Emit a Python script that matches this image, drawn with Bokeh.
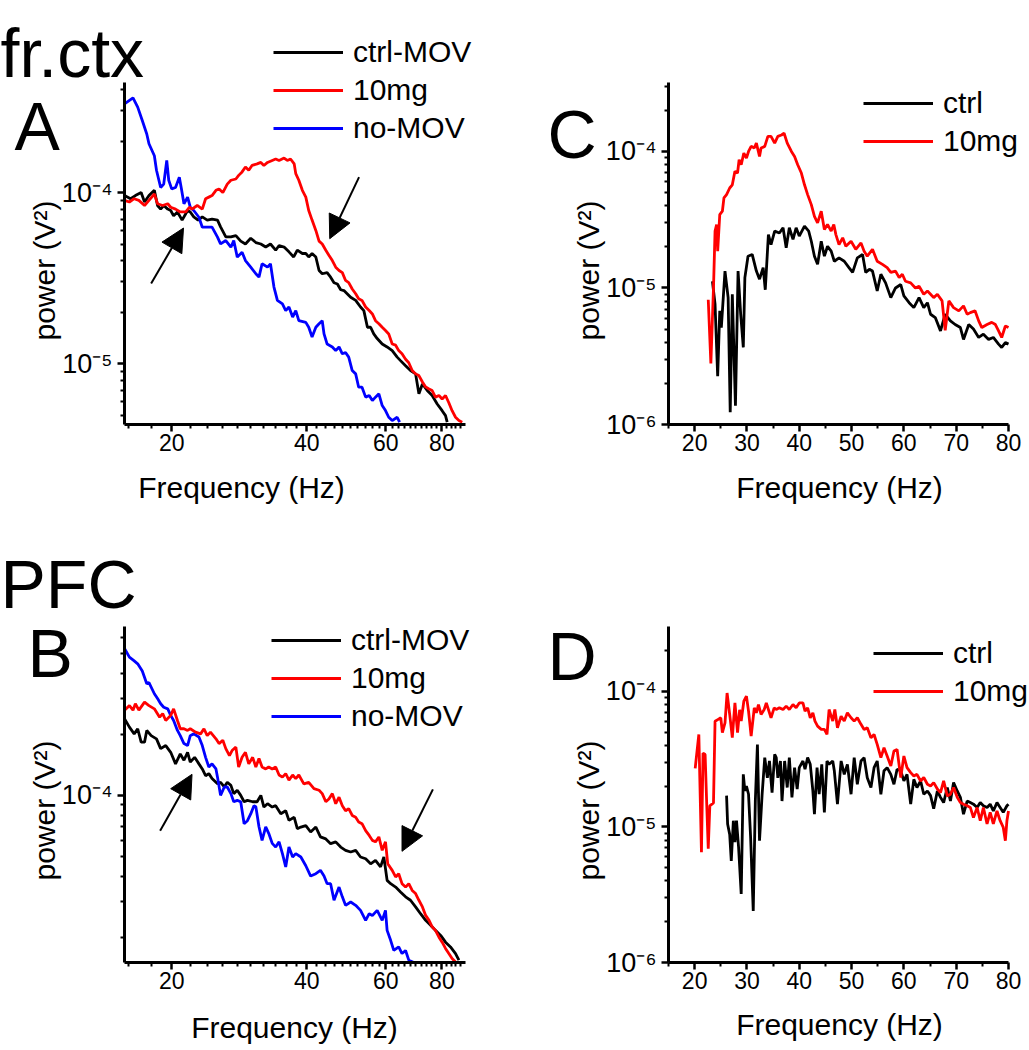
import math
from bokeh.plotting import figure
from bokeh.models import (FixedTicker, Label, Legend, LegendItem, Arrow, NormalHead,
                          Range1d, BasicTickFormatter, CustomJSTickFormatter)
from bokeh.layouts import column, row
from bokeh.embed import file_html
from bokeh.resources import INLINE

FONT = "Liberation Sans"

# ---------------- Panel A (fr.ctx, log-log) ----------------
A_f_ctrl = [15.7, 16.2, 16.6, 17.1, 17.4, 17.8, 18.3, 18.6, 18.9, 19.2,
            19.6, 19.9, 20.2, 20.6, 21.1, 21.7, 22.0, 22.4, 22.9, 23.4,
            24.0, 24.6, 25.3, 25.7, 26.4, 27.1, 27.8, 28.5, 29.2, 30.0,
            30.8, 31.6, 32.4, 33.2, 34.1, 34.7, 35.6, 36.5, 37.4, 38.1,
            39.1, 39.8, 40.4, 41.1, 41.9, 42.6, 43.3, 44.4, 45.2, 46.0,
            46.8, 47.6, 48.4, 49.2, 50.1, 51.4, 52.7, 53.6, 54.6, 55.5,
            56.4, 57.4, 58.9, 60.4, 62.0, 63.6, 64.7, 66.4, 68.1, 69.9,
            71.1, 72.4, 74.2, 76.1, 78.1, 80.1, 81.5, 82.2]
A_p_ctrl = [9.6e-5, 9.2e-5, 9.6e-5, 1.0e-4, 8.8e-5, 9.6e-5, 1.03e-4, 8.4e-5, 8.0e-5, 8.4e-5,
            8.0e-5, 7.85e-5, 7.3e-5, 7.7e-5, 6.9e-5, 7.85e-5, 7.7e-5, 7.2e-5, 6.9e-5, 7.2e-5,
            6.9e-5, 7.0e-5, 6.9e-5, 6.3e-5, 5.5e-5, 5.5e-5, 5.6e-5, 5.2e-5, 5.0e-5, 5.4e-5,
            5.1e-5, 5.0e-5, 4.8e-5, 5.0e-5, 4.6e-5, 4.9e-5, 4.8e-5, 4.5e-5, 4.2e-5, 4.6e-5,
            4.4e-5, 4.4e-5, 4.2e-5, 4.4e-5, 4.2e-5, 3.5e-5, 3.35e-5, 3.4e-5, 3.2e-5, 2.97e-5,
            2.92e-5, 2.7e-5, 2.67e-5, 2.56e-5, 2.44e-5, 2.34e-5, 2.14e-5, 2.04e-5, 1.63e-5, 1.63e-5,
            1.49e-5, 1.40e-5, 1.30e-5, 1.25e-5, 1.19e-5, 1.09e-5, 1.04e-5, 9.7e-6, 9.1e-6, 8.7e-6,
            6.65e-6, 7.6e-6, 6.95e-6, 6.5e-6, 5.8e-6, 5.3e-6, 4.96e-6, 4.54e-6]

A_f_10mg = [15.7, 16.1, 16.5, 16.9, 17.4, 17.8, 18.3, 18.6, 19.1, 19.6,
            19.9, 20.4, 20.9, 21.5, 21.9, 22.2, 22.8, 23.4, 23.8, 24.2,
            24.6, 25.1, 25.5, 26.0, 26.6, 27.1, 27.8, 28.2, 28.7, 29.2,
            29.7, 30.2, 31.0, 31.6, 32.1, 32.7, 33.5, 34.1, 34.7, 35.6,
            36.2, 36.8, 37.5, 37.8, 38.4, 39.1, 39.8, 40.4, 41.1, 41.9,
            42.6, 43.3, 44.1, 44.8, 45.6, 46.4, 47.2, 48.0, 48.8, 49.6,
            50.5, 51.4, 52.2, 53.1, 54.1, 55.1, 56.0, 56.9, 57.9, 58.9,
            59.9, 60.9, 62.0, 63.1, 64.1, 65.2, 66.4, 67.5, 68.7, 69.9,
            71.1, 72.4, 73.6, 74.9, 76.1, 77.4, 78.8, 80.1, 81.5, 82.9,
            84.3, 85.8, 87.3, 88.8]
A_p_10mg = [9.0e-5, 8.8e-5, 9.2e-5, 9.0e-5, 8.4e-5, 9.0e-5, 9.8e-5, 8.6e-5, 8.4e-5, 8.6e-5,
            8.2e-5, 8.0e-5, 7.7e-5, 7.7e-5, 8.2e-5, 8.0e-5, 8.4e-5, 8.0e-5, 9.2e-5, 9.4e-5,
            9.6e-5, 1.03e-4, 1.05e-4, 1.0e-4, 1.12e-4, 1.18e-4, 1.20e-4, 1.26e-4, 1.32e-4, 1.41e-4,
            1.35e-4, 1.44e-4, 1.47e-4, 1.50e-4, 1.44e-4, 1.50e-4, 1.54e-4, 1.57e-4, 1.54e-4, 1.59e-4,
            1.54e-4, 1.57e-4, 1.47e-4, 1.29e-4, 1.18e-4, 1.03e-4, 9.4e-5, 7.85e-5, 6.9e-5, 6.0e-5,
            5.2e-5, 5.0e-5, 4.6e-5, 4.3e-5, 4.0e-5, 3.66e-5, 3.5e-5, 3.4e-5, 3.06e-5, 2.97e-5,
            2.73e-5, 2.56e-5, 2.39e-5, 2.34e-5, 2.14e-5, 2.04e-5, 1.95e-5, 1.78e-5, 1.71e-5, 1.63e-5,
            1.56e-5, 1.49e-5, 1.30e-5, 1.28e-5, 1.19e-5, 1.14e-5, 1.06e-5, 1.01e-5, 9.1e-6, 8.7e-6,
            8.5e-6, 7.8e-6, 7.3e-6, 7.1e-6, 6.95e-6, 6.36e-6, 6.5e-6, 6.2e-6, 6.5e-6, 5.9e-6,
            5.3e-6, 4.85e-6, 4.64e-6, 4.54e-6]

A_f_nomov = [15.7, 16.4, 16.8, 17.2, 17.6, 17.8, 18.3, 18.5, 18.9, 19.2,
             19.5, 19.7, 20.0, 20.4, 20.8, 21.0, 21.3, 21.7, 22.0, 22.4,
             23.0, 23.4, 24.0, 24.6, 25.3, 25.7, 26.4, 27.1, 27.5, 28.0,
             28.7, 29.2, 30.0, 30.8, 31.3, 31.8, 32.7, 33.2, 33.8, 34.4,
             35.3, 35.9, 36.5, 37.2, 37.8, 38.4, 39.8, 40.4, 41.1, 41.9,
             42.6, 43.3, 43.7, 44.4, 45.6, 46.4, 47.2, 48.0, 48.8, 49.6,
             50.5, 51.4, 52.2, 53.1, 54.1, 55.1, 56.0, 56.9, 57.9, 58.9,
             59.9, 60.9, 62.0, 63.6, 64.4]
A_p_nomov = [3.30e-4, 3.58e-4, 3.16e-4, 2.64e-4, 2.20e-4, 1.93e-4, 1.64e-4, 1.35e-4, 1.07e-4, 1.12e-4,
             1.54e-4, 1.18e-4, 1.05e-4, 1.07e-4, 1.23e-4, 1.07e-4, 8.59e-5, 9.39e-5, 8.21e-5, 7.85e-5,
             7.17e-5, 6.27e-5, 6.27e-5, 6.27e-5, 5.48e-5, 5.01e-5, 5.24e-5, 4.79e-5, 5.24e-5, 4.19e-5,
             4.48e-5, 4.00e-5, 3.66e-5, 3.35e-5, 3.20e-5, 3.83e-5, 3.66e-5, 3.83e-5, 2.80e-5, 2.34e-5,
             2.23e-5, 2.04e-5, 2.14e-5, 1.87e-5, 2.04e-5, 1.78e-5, 1.74e-5, 1.63e-5, 1.43e-5, 1.63e-5,
             1.71e-5, 1.78e-5, 1.49e-5, 1.30e-5, 1.25e-5, 1.19e-5, 1.25e-5, 1.14e-5, 1.16e-5, 1.09e-5,
             9.10e-6, 8.70e-6, 7.27e-6, 7.27e-6, 6.36e-6, 6.50e-6, 6.07e-6, 6.36e-6, 6.65e-6, 5.68e-6,
             5.31e-6, 4.85e-6, 4.64e-6, 4.85e-6, 4.54e-6]

# ---------------- Panel B (PFC, log-log) ----------------
B_f_ctrl = [15.7, 16.1, 16.5, 16.8, 17.1, 17.4, 17.6, 18.0, 18.5, 18.9,
            19.4, 19.9, 20.4, 20.9, 21.3, 21.7, 22.0, 22.5, 23.0, 23.4,
            23.8, 24.2, 24.6, 25.3, 25.7, 26.2, 26.6, 27.1, 27.5, 28.0,
            28.5, 29.0, 29.5, 30.3, 31.0, 31.6, 32.1, 32.7, 33.5, 34.1,
            35.0, 35.9, 36.5, 37.5, 38.1, 38.8, 39.8, 40.8, 41.9, 42.9,
            44.1, 45.2, 46.4, 47.6, 48.8, 50.1, 51.4, 52.7, 54.1, 55.5,
            56.9, 58.4, 59.4, 60.4, 61.5, 63.1, 64.7, 66.4, 68.1, 69.9,
            71.7, 73.6, 75.5, 77.4, 79.5, 81.5, 83.6, 85.8, 87.3]
B_p_ctrl = [2.39e-4, 2.17e-4, 2.01e-4, 2.13e-4, 1.83e-4, 1.83e-4, 2.09e-4, 1.97e-4, 1.90e-4, 1.70e-4,
            1.76e-4, 1.63e-4, 1.43e-4, 1.60e-4, 1.49e-4, 1.63e-4, 1.46e-4, 1.54e-4, 1.43e-4, 1.35e-4,
            1.25e-4, 1.28e-4, 1.21e-4, 1.14e-4, 1.16e-4, 1.10e-4, 1.16e-4, 1.12e-4, 1.02e-4, 1.06e-4,
            1.0e-4, 9.3e-5, 9.45e-5, 9.3e-5, 9.3e-5, 1.0e-4, 8.76e-5, 9.1e-5, 8.76e-5, 8.9e-5,
            8.12e-5, 8.4e-5, 7.53e-5, 7.8e-5, 6.85e-5, 6.98e-5, 7.1e-5, 6.6e-5, 6.98e-5, 6.24e-5,
            6.1e-5, 5.78e-5, 5.9e-5, 5.56e-5, 5.36e-5, 5.26e-5, 5.36e-5, 4.97e-5, 4.87e-5, 4.6e-5,
            4.78e-5, 4.44e-5, 4.97e-5, 3.81e-5, 3.67e-5, 3.53e-5, 3.34e-5, 3.16e-5, 3.04e-5, 2.82e-5,
            2.61e-5, 2.42e-5, 2.29e-5, 2.16e-5, 2.04e-5, 1.89e-5, 1.79e-5, 1.66e-5, 1.54e-5]

B_f_10mg = [15.7, 16.1, 16.4, 16.6, 16.9, 17.4, 17.8, 18.3, 18.8, 19.1,
            19.4, 19.9, 20.2, 20.6, 20.9, 21.3, 21.7, 22.0, 22.6, 23.2,
            23.6, 24.0, 24.4, 25.1, 25.5, 26.0, 26.4, 26.9, 27.3, 27.8,
            28.2, 28.7, 29.2, 29.7, 30.3, 30.8, 31.3, 31.8, 32.4, 32.9,
            33.5, 34.1, 34.7, 35.3, 35.9, 36.5, 37.2, 37.8, 38.4, 39.4,
            40.4, 41.5, 42.6, 43.3, 44.1, 44.8, 45.6, 46.4, 47.2, 48.0,
            48.8, 49.6, 50.5, 51.4, 52.2, 53.1, 54.1, 55.1, 56.0, 56.9,
            57.9, 58.9, 59.9, 60.6, 62.0, 63.1, 64.1, 65.2, 66.4, 67.5,
            68.7, 69.9, 71.1, 72.4, 73.6, 74.9, 76.1, 77.4, 78.8, 80.1,
            81.5, 82.9, 84.3, 85.8]
B_p_10mg = [2.63e-4, 2.77e-4, 2.63e-4, 2.83e-4, 2.63e-4, 2.88e-4, 2.77e-4, 2.67e-4, 2.43e-4, 2.53e-4,
            2.34e-4, 2.48e-4, 2.67e-4, 2.34e-4, 2.13e-4, 2.13e-4, 2.09e-4, 2.13e-4, 2.05e-4, 2.01e-4,
            2.13e-4, 1.97e-4, 2.05e-4, 1.90e-4, 1.80e-4, 1.87e-4, 1.70e-4, 1.57e-4, 1.67e-4, 1.73e-4,
            1.38e-4, 1.54e-4, 1.63e-4, 1.43e-4, 1.54e-4, 1.38e-4, 1.52e-4, 1.38e-4, 1.35e-4, 1.38e-4,
            1.35e-4, 1.38e-4, 1.26e-4, 1.23e-4, 1.28e-4, 1.19e-4, 1.26e-4, 1.21e-4, 1.26e-4, 1.14e-4,
            1.16e-4, 1.08e-4, 1.06e-4, 1.02e-4, 9.3e-5, 9.6e-5, 1.02e-4, 9.1e-5, 9.8e-5, 8.9e-5,
            8.4e-5, 8.6e-5, 7.96e-5, 7.8e-5, 7.4e-5, 7.25e-5, 6.7e-5, 6.35e-5, 6.0e-5, 5.9e-5,
            6.24e-5, 5.36e-5, 5.9e-5, 4.6e-5, 4.27e-5, 3.96e-5, 4.11e-5, 3.67e-5, 3.53e-5, 3.67e-5,
            3.4e-5, 3.28e-5, 3.04e-5, 2.82e-5, 2.56e-5, 2.42e-5, 2.25e-5, 2.16e-5, 2.0e-5, 1.89e-5,
            1.76e-5, 1.66e-5, 1.57e-5, 1.51e-5]

B_f_nomov = [15.7, 16.1, 16.5, 16.8, 17.2, 17.6, 17.8, 18.3, 18.6, 18.9,
             19.2, 19.6, 19.9, 20.2, 20.6, 20.9, 21.3, 21.7, 22.0, 22.4,
             23.0, 23.4, 23.8, 24.2, 24.6, 25.1, 25.3, 25.7, 26.2, 26.6,
             27.1, 27.5, 28.0, 28.5, 29.0, 29.5, 30.0, 30.5, 30.8, 31.3,
             31.8, 32.4, 32.9, 33.5, 34.1, 34.7, 35.3, 35.9, 36.5, 37.2,
             37.8, 38.8, 39.8, 40.8, 41.9, 42.9, 43.7, 44.4, 45.2, 46.0,
             47.2, 48.0, 48.8, 50.1, 51.4, 52.7, 54.1, 55.1, 56.0, 57.4,
             58.9, 59.9, 60.4, 61.5, 62.5, 64.1, 65.2, 66.4, 67.5, 69.3]
B_p_nomov = [5.3e-4, 4.8e-4, 4.6e-4, 4.45e-4, 4.1e-4, 3.55e-4, 3.6e-4, 3.17e-4, 3.0e-4, 2.83e-4,
             2.72e-4, 2.67e-4, 2.48e-4, 2.34e-4, 2.09e-4, 1.97e-4, 1.80e-4, 1.76e-4, 1.97e-4, 2.01e-4,
             1.94e-4, 1.76e-4, 1.54e-4, 1.38e-4, 1.43e-4, 1.35e-4, 1.23e-4, 1.0e-4, 1.10e-4, 1.10e-4,
             1.02e-4, 9.3e-5, 9.45e-5, 9.3e-5, 7.25e-5, 7.5e-5, 8.1e-5, 8.9e-5, 8.8e-5, 7.0e-5,
             6.0e-5, 7.0e-5, 6.5e-5, 5.8e-5, 5.56e-5, 5.9e-5, 5.16e-5, 4.44e-5, 5.56e-5, 4.97e-5,
             5.16e-5, 4.97e-5, 4.5e-5, 4.0e-5, 4.11e-5, 4.27e-5, 4.0e-5, 3.67e-5, 3.67e-5, 3.04e-5,
             3.53e-5, 3.16e-5, 2.87e-5, 2.98e-5, 2.87e-5, 2.71e-5, 2.42e-5, 2.61e-5, 2.56e-5, 2.71e-5,
             2.42e-5, 2.71e-5, 2.16e-5, 1.93e-5, 1.72e-5, 1.79e-5, 1.66e-5, 1.72e-5, 1.54e-5, 1.5e-5]

# ---------------- Panel C (fr.ctx, linear x) ----------------
C_f_ctrl = [23.4, 23.9, 24.4, 24.8, 25.1, 25.8, 26.4, 26.8, 27.2, 27.8,
            28.3, 28.8, 29.3, 29.6, 30.2, 31.0, 31.8, 32.4, 33.1, 33.5,
            34.1, 34.6, 35.3, 36.2, 36.9, 37.5, 38.1, 38.8, 39.4, 40.0,
            41.0, 41.8, 42.3, 42.9, 43.5, 44.2, 44.8, 45.4, 46.1, 46.7,
            47.6, 48.6, 49.5, 50.2, 51.1, 52.1, 52.7, 53.4, 54.0, 54.9,
            55.6, 56.5, 57.5, 58.4, 59.4, 60.0, 61.0, 61.9, 62.9, 63.8,
            64.5, 65.1, 66.0, 67.0, 67.9, 68.9, 69.8, 70.8, 71.4, 72.4,
            73.3, 74.3, 75.2, 76.2, 77.1, 78.1, 78.7, 79.4, 80.0]
C_p_ctrl = [1.12e-5, 7.6e-6, 2.26e-6, 6.8e-6, 5.13e-6, 1.33e-5, 8.5e-6, 1.23e-6, 9.0e-6, 1.37e-6,
            1.33e-5, 6.42e-6, 3.67e-6, 1.19e-5, 1.71e-5, 1.76e-5, 1.33e-5, 1.16e-5, 1.41e-5, 9.7e-6,
            2.46e-5, 2.08e-5, 2.61e-5, 2.53e-5, 2.76e-5, 1.97e-5, 2.76e-5, 2.27e-5, 2.76e-5, 2.40e-5,
            2.84e-5, 2.61e-5, 2.20e-5, 1.71e-5, 1.49e-5, 2.20e-5, 1.71e-5, 2.02e-5, 1.86e-5, 1.57e-5,
            1.66e-5, 1.57e-5, 1.41e-5, 1.30e-5, 1.66e-5, 1.76e-5, 1.30e-5, 1.37e-5, 1.33e-5, 9.5e-6,
            1.26e-5, 1.09e-5, 8.5e-6, 1.0e-5, 1.06e-5, 8.75e-6, 7.8e-6, 7.18e-6, 8.5e-6, 7.18e-6,
            7.8e-6, 6.42e-6, 6.07e-6, 4.85e-6, 6.42e-6, 5.74e-6, 5.4e-6, 5.13e-6, 4.2e-6, 5.4e-6,
            5.0e-6, 4.34e-6, 4.59e-6, 4.2e-6, 4.34e-6, 3.88e-6, 3.67e-6, 3.98e-6, 3.88e-6]

C_f_10mg = [22.6, 23.1, 23.6, 23.9, 24.2, 24.4, 24.8, 25.3, 25.6, 26.1,
            26.7, 27.2, 27.7, 28.2, 28.5, 28.9, 29.4, 29.9, 30.3, 30.8,
            31.4, 31.8, 32.4, 32.7, 33.4, 34.0, 34.6, 35.3, 35.9, 36.6,
            37.1, 37.7, 38.5, 39.1, 39.7, 40.4, 41.0, 41.6, 42.3, 42.9,
            43.5, 44.2, 44.8, 45.4, 46.1, 46.6, 47.0, 47.6, 48.3, 48.9,
            49.9, 50.8, 51.8, 52.4, 53.0, 54.0, 54.9, 55.9, 56.8, 57.5,
            58.4, 59.1, 59.7, 60.3, 61.3, 62.2, 62.9, 63.8, 64.5, 65.1,
            65.7, 66.4, 67.3, 67.9, 68.6, 69.5, 70.5, 71.4, 72.1, 72.7,
            73.6, 74.3, 74.9, 75.9, 76.8, 77.5, 78.1, 78.7, 79.4, 80.0]
C_p_10mg = [8.2e-6, 2.8e-6, 1.0e-5, 2.61e-5, 2.92e-5, 1.86e-5, 3.45e-5, 3.65e-5, 4.57e-5, 4.83e-5,
            5.40e-5, 5.7e-5, 7.15e-5, 6.95e-5, 8.7e-5, 7.99e-5, 9.73e-5, 8.94e-5, 1.0e-4, 1.09e-4,
            1.06e-4, 1.15e-4, 9.2e-5, 1.06e-4, 1.09e-4, 1.29e-4, 1.29e-4, 1.15e-4, 1.29e-4, 1.32e-4,
            1.36e-4, 1.15e-4, 1.0e-4, 9.2e-5, 7.99e-5, 6.95e-5, 5.7e-5, 4.83e-5, 4.08e-5, 3.35e-5,
            3.0e-5, 3.65e-5, 2.68e-5, 2.92e-5, 2.61e-5, 2.92e-5, 2.46e-5, 2.08e-5, 2.33e-5, 2.02e-5,
            2.20e-5, 1.92e-5, 2.14e-5, 1.86e-5, 1.71e-5, 1.92e-5, 1.57e-5, 1.49e-5, 1.41e-5, 1.30e-5,
            1.33e-5, 1.19e-5, 1.26e-5, 1.12e-5, 1.09e-5, 1.0e-5, 1.03e-5, 8.99e-6, 9.5e-6, 8.99e-6,
            8.5e-6, 8.99e-6, 8.04e-6, 4.9e-6, 8.04e-6, 7.18e-6, 6.8e-6, 7.4e-6, 6.42e-6, 6.6e-6,
            6.8e-6, 5.74e-6, 5.13e-6, 5.4e-6, 5.6e-6, 5.4e-6, 4.85e-6, 4.34e-6, 5.27e-6, 5.13e-6]

# ---------------- Panel D (PFC, linear x) ----------------
D_f_ctrl = [26.1, 26.3, 26.7, 27.0, 27.4, 27.7, 28.0, 28.4, 28.9, 29.3,
            29.6, 29.9, 30.3, 30.7, 31.2, 31.6, 32.0, 32.4, 32.9, 33.4,
            33.9, 34.3, 34.8, 35.3, 35.6, 35.9, 36.4, 36.7, 37.2, 37.7,
            38.1, 38.6, 39.1, 39.6, 40.0, 40.7, 41.1, 41.6, 42.1, 42.6,
            42.9, 43.4, 43.8, 44.3, 44.8, 45.3, 45.7, 46.4, 46.7, 47.3,
            48.0, 48.6, 49.2, 49.9, 50.5, 51.1, 51.8, 52.4, 53.0, 53.7,
            54.3, 54.9, 55.6, 56.2, 56.8, 57.5, 58.1, 58.7, 59.4, 60.0,
            60.6, 61.3, 61.9, 62.5, 63.2, 63.8, 64.5, 65.1, 65.7, 66.4,
            67.0, 67.6, 68.3, 68.9, 69.5, 70.2, 70.8, 71.4, 72.1, 72.7,
            73.3, 74.0, 74.6, 75.2, 75.9, 76.5, 77.1, 77.8, 78.4, 79.0,
            79.7, 80.0]
D_p_ctrl = [1.7e-5, 1.05e-5, 8.8e-6, 5.6e-6, 1.11e-5, 7.7e-6, 1.11e-5, 7.05e-6, 3.2e-6, 2.44e-5,
            1.84e-5, 2.0e-5, 1.74e-5, 8.35e-6, 2.4e-6, 1.55e-5, 4.05e-5, 7.9e-6, 1.74e-5, 3.24e-5,
            2.3e-5, 3.06e-5, 1.79e-5, 3.42e-5, 3.24e-5, 2.3e-5, 3.06e-5, 1.55e-5, 3.06e-5, 1.95e-5,
            3.24e-5, 1.65e-5, 2.73e-5, 1.9e-5, 2.73e-5, 3.06e-5, 2.66e-5, 3.24e-5, 2.89e-5, 1.84e-5,
            1.24e-5, 2.73e-5, 1.74e-5, 2.89e-5, 1.28e-5, 3.06e-5, 2.89e-5, 3.06e-5, 2.59e-5, 1.47e-5,
            3.06e-5, 2.44e-5, 2.89e-5, 1.74e-5, 3.24e-5, 2.06e-5, 3.06e-5, 3.24e-5, 2.3e-5, 1.95e-5,
            2.73e-5, 3.06e-5, 1.74e-5, 2.59e-5, 2.73e-5, 2.44e-5, 2.06e-5, 2.66e-5, 2.59e-5, 2.18e-5,
            2.44e-5, 1.47e-5, 2.24e-5, 1.95e-5, 2.18e-5, 1.74e-5, 1.84e-5, 1.7e-5, 1.36e-5, 1.84e-5,
            1.65e-5, 1.51e-5, 1.95e-5, 1.55e-5, 2.12e-5, 1.84e-5, 1.65e-5, 1.24e-5, 1.55e-5, 1.51e-5,
            1.47e-5, 1.39e-5, 1.51e-5, 1.43e-5, 1.39e-5, 1.47e-5, 1.31e-5, 1.51e-5, 1.39e-5, 1.28e-5,
            1.43e-5, 1.47e-5]

D_f_10mg = [20.1, 20.8, 21.3, 21.6, 22.0, 22.3, 22.6, 22.9, 23.6, 23.9,
            24.5, 25.0, 25.3, 25.8, 26.2, 26.7, 27.2, 27.7, 28.2, 28.6,
            28.9, 29.4, 29.9, 30.3, 30.8, 31.4, 31.8, 32.2, 32.7, 33.3,
            33.7, 34.1, 34.6, 35.2, 35.6, 36.2, 36.9, 37.5, 38.1, 38.8,
            39.4, 40.0, 40.7, 41.1, 41.6, 42.1, 42.6, 43.0, 43.5, 44.2,
            44.8, 45.3, 45.7, 46.4, 46.8, 47.3, 48.0, 48.6, 49.2, 49.9,
            50.5, 51.1, 51.8, 52.4, 53.0, 53.7, 54.3, 54.9, 55.6, 56.2,
            56.8, 57.5, 58.1, 58.7, 59.4, 60.0, 60.6, 61.3, 61.9, 62.5,
            63.2, 63.8, 64.5, 65.1, 65.7, 66.4, 67.0, 67.6, 68.3, 68.9,
            69.5, 70.2, 70.8, 71.4, 72.1, 72.7, 73.3, 74.0, 74.6, 75.2,
            75.9, 76.5, 77.1, 77.8, 78.4, 79.0, 79.4, 79.7, 80.0]
D_p_10mg = [2.7e-5, 4.8e-5, 6.5e-6, 3.5e-5, 3.42e-5, 1.5e-5, 6.9e-6, 1.43e-5, 1.5e-5, 6.0e-5,
            6.2e-5, 6.37e-5, 4.95e-5, 5.85e-5, 9.7e-5, 6.74e-5, 4.55e-5, 8.2e-5, 4.95e-5, 7.3e-5,
            6.02e-5, 8.44e-5, 9.2e-5, 7.13e-5, 4.67e-5, 7.54e-5, 6.93e-5, 7.98e-5, 6.74e-5, 7.33e-5,
            8.2e-5, 7.33e-5, 6.37e-5, 7.54e-5, 7.33e-5, 7.54e-5, 7.33e-5, 7.76e-5, 7.33e-5, 7.98e-5,
            7.54e-5, 8.2e-5, 8.2e-5, 7.13e-5, 7.54e-5, 6.37e-5, 6.93e-5, 6.02e-5, 5.53e-5, 5.23e-5,
            5.23e-5, 4.8e-5, 7.33e-5, 6.02e-5, 7.33e-5, 5.38e-5, 6.55e-5, 6.02e-5, 6.93e-5, 6.37e-5,
            6.02e-5, 6.37e-5, 5.7e-5, 5.23e-5, 5.38e-5, 4.54e-5, 4.8e-5, 4.06e-5, 3.24e-5, 3.83e-5,
            3.33e-5, 2.81e-5, 3.62e-5, 3.72e-5, 2.31e-5, 3.33e-5, 2.73e-5, 2.51e-5, 2.37e-5, 2.44e-5,
            2.18e-5, 2.31e-5, 2.06e-5, 2.0e-5, 2.12e-5, 1.9e-5, 1.79e-5, 2.18e-5, 1.69e-5, 1.74e-5,
            1.95e-5, 1.65e-5, 1.51e-5, 1.47e-5, 1.43e-5, 1.39e-5, 1.17e-5, 1.39e-5, 1.11e-5, 1.39e-5,
            1.05e-5, 1.28e-5, 1.05e-5, 1.31e-5, 1.11e-5, 9.9e-6, 7.9e-6, 1.11e-5, 1.31e-5]

# ---------------- ticks ----------------
LOGX_TICKS = [20, 40, 60, 80]
LOGX_MINOR = [16, 18, 22, 24, 26, 28, 30, 32, 34, 36, 38, 42, 44, 46, 48, 50, 52, 54, 56, 58,
              62, 64, 66, 68, 70, 72, 74, 76, 78, 82, 84, 86, 88]
LINX_TICKS = [20, 30, 40, 50, 60, 70, 80]
LINX_MINOR = [15, 25, 35, 45, 55, 65, 75]
Y_MINOR = [m * 10.0 ** e for e in (-6, -5, -4) for m in range(2, 10)]

BLACK, RED, BLUE = "#000000", "#ff0000", "#0000ff"

sup_fmt = CustomJSTickFormatter(code="""
const e = Math.round(Math.log10(tick));
const m = {'-':'\u207b','0':'\u2070','1':'\u00b9','2':'\u00b2','3':'\u00b3','4':'\u2074',
           '5':'\u2075','6':'\u2076','7':'\u2077','8':'\u2078','9':'\u2079'};
return '10' + String(e).split('').map(c => m[c]).join('');
""")


def full_range(v0, v1, p0, p1, length, log):
    """Range covering the whole canvas so that [v0, v1] maps onto pixels [p0, p1]."""
    a, b = (math.log10(v0), math.log10(v1)) if log else (v0, v1)
    k = (b - a) / (p1 - p0)
    r0, r1 = a - p0 * k, b + (length - p1) * k
    return (10 ** r0, 10 ** r1) if log else (r0, r1)


def make_fig(W, H, box, xvis, yvis, xlog, yticks, xticks, xminor):
    left, right, top, bottom = box
    xr = full_range(xvis[0], xvis[1], left, right, W, xlog)
    yr = full_range(yvis[0], yvis[1], H - bottom, H - top, H, True)
    p = figure(width=W, height=H, x_axis_type="log" if xlog else "linear", y_axis_type="log",
               x_range=Range1d(*xr), y_range=Range1d(*yr), title=None,
               output_backend="svg", toolbar_location=None, min_border=0)
    p.outline_line_color = None
    p.xgrid.visible = False
    p.ygrid.visible = False
    p.xaxis.fixed_location = yvis[0]
    p.yaxis.fixed_location = xvis[0]
    p.xaxis.bounds = xvis
    p.yaxis.bounds = yvis
    p.xaxis.ticker = FixedTicker(ticks=xticks, minor_ticks=xminor)
    p.yaxis.ticker = FixedTicker(ticks=yticks,
                                 minor_ticks=[v for v in Y_MINOR if yvis[0] <= v <= yvis[1]])
    p.xaxis.formatter = BasicTickFormatter()
    p.yaxis.formatter = sup_fmt
    for ax in (p.xaxis[0], p.yaxis[0]):
        ax.axis_line_width = 3
        ax.axis_line_color = "black"
        ax.major_tick_line_width = 2.5
        ax.minor_tick_line_width = 2
        ax.major_tick_out = 7
        ax.major_tick_in = 0
        ax.minor_tick_out = 4
        ax.minor_tick_in = 0
        ax.major_label_text_font = FONT
        ax.major_label_text_color = "black"
    p.xaxis.major_label_text_font_size = "23px"
    p.xaxis.major_label_standoff = 2
    p.yaxis.major_label_text_font_size = "27px"
    p.yaxis.major_label_standoff = 5
    return p


def add_lines(p, series):
    return [p.line(f, pw, line_color=col, line_width=2.8) for f, pw, col in series]


def add_legend(p, items, loc):
    p.add_layout(Legend(items=items, location=loc, glyph_width=70, glyph_height=38,
                        label_height=38, label_standoff=10, spacing=0, padding=0, margin=0,
                        border_line_color=None, background_fill_alpha=0,
                        label_text_font=FONT, label_text_font_size="30px",
                        label_text_color="black"))


def add_text(p, x, y, text, size, angle=0.0, align="left", baseline="alphabetic"):
    p.add_layout(Label(x=x, y=y, x_units="screen", y_units="screen", text=text,
                       text_font=FONT, text_font_size=size, text_color="black",
                       angle=angle, angle_units="deg", text_align=align,
                       text_baseline=baseline))


def add_arrow(p, x0, y0, x1, y1):
    p.add_layout(Arrow(x_start=x0, y_start=y0, x_end=x1, y_end=y1, line_width=2,
                       line_color="black",
                       end=NormalHead(size=23, fill_color="black", line_color="black",
                                      line_width=1)))


# ---- A ----
pA = make_fig(520, 528, (124, 465, 82, 424), (15.7, 90.3), (4.4e-6, 4.4e-4), True,
              [1e-5, 1e-4], LOGX_TICKS, LOGX_MINOR)
rA = add_lines(pA, [(A_f_ctrl, A_p_ctrl, BLACK), (A_f_nomov, A_p_nomov, BLUE),
                    (A_f_10mg, A_p_10mg, RED)])
add_legend(pA, [LegendItem(label="ctrl-MOV", renderers=[rA[0]]),
                LegendItem(label="10mg", renderers=[rA[2]]),
                LegendItem(label="no-MOV", renderers=[rA[1]])], (273, 381))
add_arrow(pA, 18.0, 2.94e-5, 21.25, 6.2e-5)
add_arrow(pA, 52.3, 1.23e-4, 45.0, 5.37e-5)
add_text(pA, 0, 476, "fr.ctx", "68px")
add_text(pA, 14, 403, "A", "68px")
add_text(pA, 44, 258, "power (V\u00b2)", "30px", angle=90, align="center", baseline="middle")
add_text(pA, 241, 41, "Frequency (Hz)", "30px", align="center", baseline="middle")

# ---- C ----
pC = make_fig(509, 528, (148, 488, 82, 424), (15, 80), (1e-6, 3.2e-4), False,
              [1e-6, 1e-5, 1e-4], LINX_TICKS, LINX_MINOR)
rC = add_lines(pC, [(C_f_ctrl, C_p_ctrl, BLACK), (C_f_10mg, C_p_10mg, RED)])
add_legend(pC, [LegendItem(label="ctrl", renderers=[rC[0]]),
                LegendItem(label="10mg", renderers=[rC[1]])], (343, 368))
add_text(pC, 27, 395, "C", "68px")
add_text(pC, 68, 258, "power (V\u00b2)", "30px", angle=90, align="center", baseline="middle")
add_text(pC, 319, 41, "Frequency (Hz)", "30px", align="center", baseline="middle")

# ---- B ----
pB = make_fig(520, 522, (124, 465, 98, 434), (15.7, 90.3), (1.5e-5, 6.8e-4), True,
              [1e-4], LOGX_TICKS, LOGX_MINOR)
rB = add_lines(pB, [(B_f_ctrl, B_p_ctrl, BLACK), (B_f_nomov, B_p_nomov, BLUE),
                    (B_f_10mg, B_p_10mg, RED)])
add_legend(pB, [LegendItem(label="ctrl-MOV", renderers=[rB[0]]),
                LegendItem(label="10mg", renderers=[rB[2]]),
                LegendItem(label="no-MOV", renderers=[rB[1]])], (271, 315))
add_arrow(pB, 18.85, 6.7e-5, 22.2, 1.27e-4)
add_arrow(pB, 76.4, 1.07e-4, 65.2, 5.3e-5)
add_text(pB, 0, 467, "PFC", "68px")
add_text(pB, 27, 398, "B", "68px")
add_text(pB, 44, 240, "power (V\u00b2)", "30px", angle=90, align="center", baseline="middle")
add_text(pB, 294, 23, "Frequency (Hz)", "30px", align="center", baseline="middle")

# ---- D ----
pD = make_fig(509, 522, (148, 488, 98, 434), (15, 80), (1e-6, 3.0e-4), False,
              [1e-6, 1e-5, 1e-4], LINX_TICKS, LINX_MINOR)
rD = add_lines(pD, [(D_f_ctrl, D_p_ctrl, BLACK), (D_f_10mg, D_p_10mg, RED)])
add_legend(pD, [LegendItem(label="ctrl", renderers=[rD[0]]),
                LegendItem(label="10mg", renderers=[rD[1]])], (353, 340))
add_text(pD, 27, 395, "D", "68px")
add_text(pD, 68, 240, "power (V\u00b2)", "30px", angle=90, align="center", baseline="middle")
add_text(pD, 319, 26, "Frequency (Hz)", "30px", align="center", baseline="middle")

layout = column(row(pA, pC), row(pB, pD))
open("out.html", "w").write(file_html(layout, INLINE))
